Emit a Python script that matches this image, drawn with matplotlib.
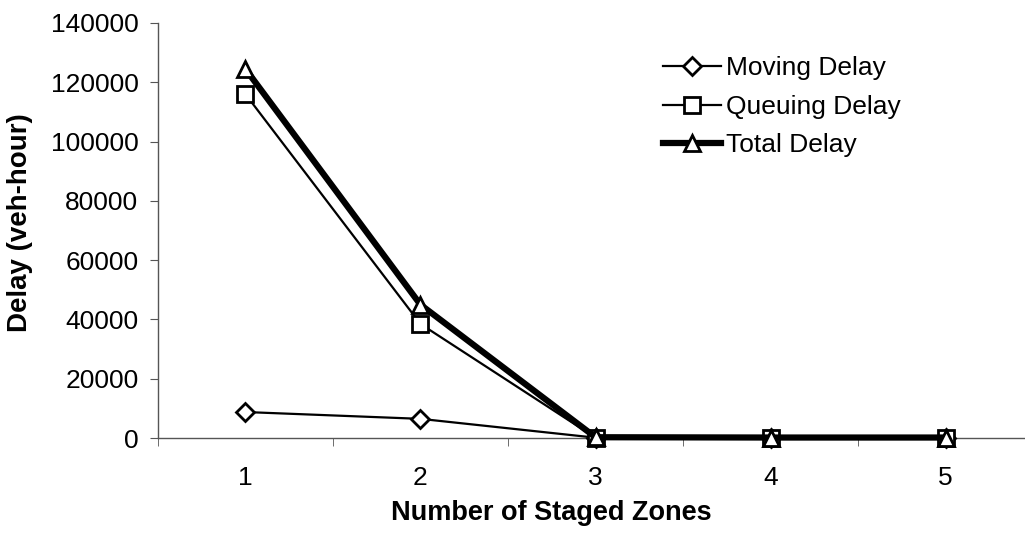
import numpy as np
import matplotlib
matplotlib.use("Agg")
import matplotlib.pyplot as plt

plt.rcParams['font.family'] = ['Liberation Sans', 'DejaVu Sans']

zones = [1, 2, 3, 4, 5]
moving_delay = [8800, 6500, 150, 100, 100]
queuing_delay = [116000, 38500, 150, 100, 100]
total_delay = [124500, 45000, 300, 200, 200]

fig = plt.figure(figsize=(10.25, 5.33), dpi=100)
ax = fig.add_axes([0.154, 0.178, 0.854, 0.779])

ax.plot(zones, moving_delay, color='black', lw=1.6, marker='D', ms=9,
        mfc='white', mec='black', mew=2, label='Moving Delay', zorder=3, clip_on=False)
ax.plot(zones, queuing_delay, color='black', lw=1.6, marker='s', ms=12,
        mfc='white', mec='black', mew=2, label='Queuing Delay', zorder=4, clip_on=False)
ax.plot(zones, total_delay, color='black', lw=4.5, marker='^', ms=12,
        mfc='white', mec='black', mew=2, label='Total Delay', zorder=5, clip_on=False)

ax.set_xlim(0.5, 5.5)
ax.set_ylim(0, 140000)
ax.set_yticks(np.arange(0, 140001, 20000))
ax.set_xticks(zones)
ax.set_xticks(np.arange(0.5, 5.6, 1), minor=True)
ax.tick_params(axis='x', which='major', length=0, labelsize=19, pad=20)
ax.tick_params(axis='x', which='minor', length=6, direction='out', color='#555555')
ax.tick_params(axis='y', length=6, direction='out', labelsize=19, color='#555555', pad=8)

for s in ['top', 'right']:
    ax.spines[s].set_visible(False)
for s in ['left', 'bottom']:
    ax.spines[s].set_color('#555555')
    ax.spines[s].set_linewidth(1)

ax.set_xlabel('Number of Staged Zones', fontsize=19.5, fontweight='bold')
ax.set_ylabel('Delay (veh-hour)', fontsize=20, fontweight='bold')
ax.xaxis.set_label_coords(0.45, -0.148)
ax.yaxis.set_label_coords(-0.143, 0.52)

leg = ax.legend(loc='upper left', bbox_to_anchor=(0.565, 0.945), frameon=False,
                fontsize=19, handlelength=2.2, handletextpad=0.2, labelspacing=0.55,
                borderaxespad=0)

fig.savefig('out.png', dpi=100)
